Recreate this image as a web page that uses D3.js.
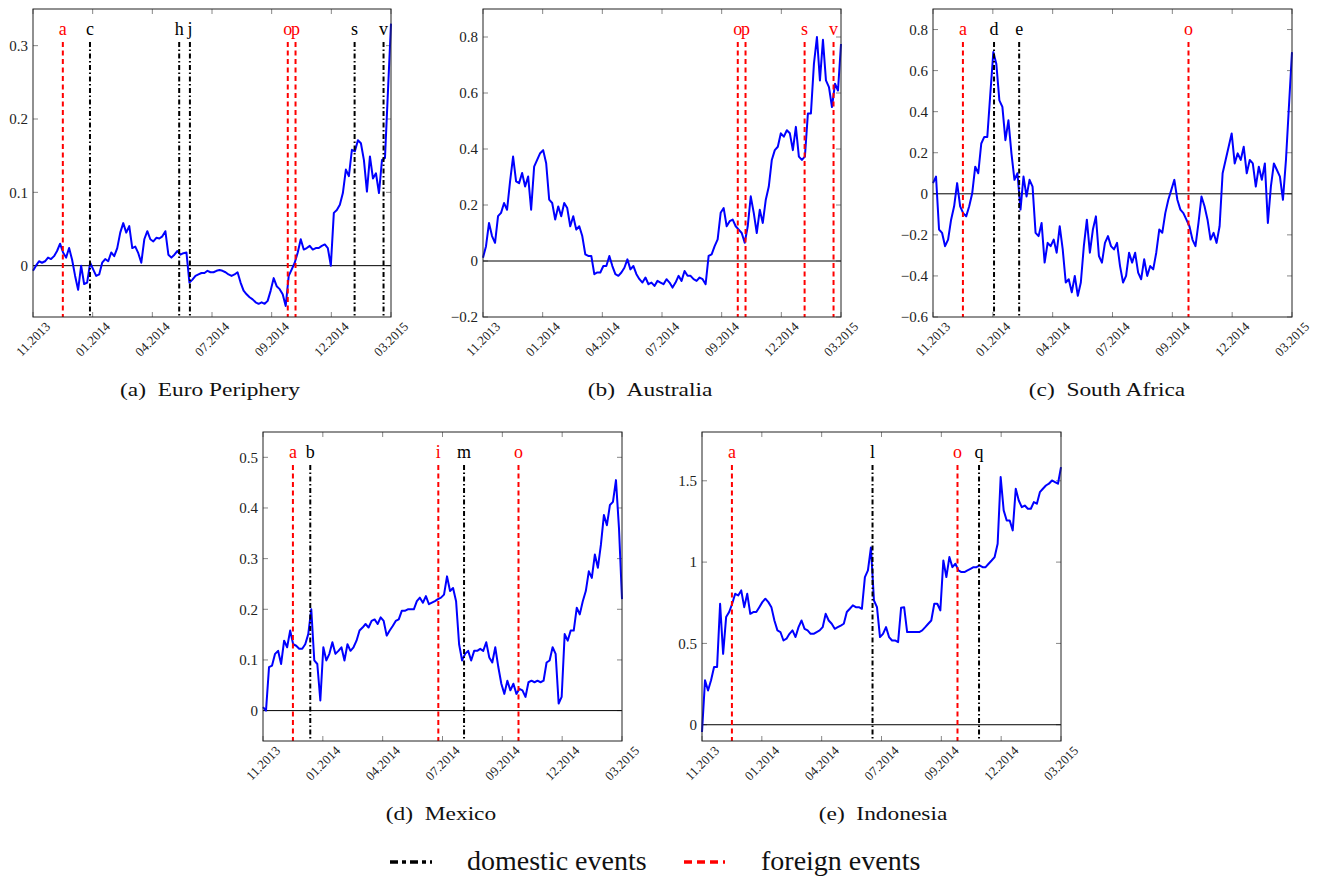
<!DOCTYPE html>
<html>
<head>
<meta charset="utf-8">
<script src="https://cdn.jsdelivr.net/npm/d3@7"></script>
<style>
  body { margin: 0; background: #fff; }
  svg { font-family: "Liberation Serif", "DejaVu Serif", serif; }
</style>
</head>
<body>
<svg id="chart" width="1324" height="880"></svg>
<script>
// x axis: observation index expressed in tick units (7 equally spaced ticks)
const xTickLabels = ["11.2013", "01.2014", "04.2014", "07.2014", "09.2014", "12.2014", "03.2015"];

// event dates, in the same tick units
const eventDates = {
  a: 0.50, b: 0.79, c: 0.955, d: 1.02, e: 1.44, h: 2.45, i: 2.93, j: 2.63,
  l: 2.85, m: 3.36, o: 4.27, p: 4.40, q: 4.63, s: 5.39, v: 5.875
};

const euroValues = [
  -0.007, 0.0, 0.006, 0.004, 0.006, 0.011, 0.009, 0.013, 0.02, 0.03, 0.018, 0.011, 0.024, 0.008,
  -0.014, -0.033, 0.0, -0.025, -0.023, 0.004, -0.005, -0.014, -0.012, 0.004, 0.009, 0.006,
  0.018, 0.013, 0.024, 0.045, 0.058, 0.045, 0.054, 0.024, 0.026, 0.017, 0.004, 0.036, 0.047,
  0.036, 0.033, 0.038, 0.037, 0.04, 0.047, 0.015, 0.011, 0.015, 0.02, 0.015, 0.017, 0.018,
  -0.023, -0.019, -0.014, -0.012, -0.01, -0.01, -0.007, -0.009, -0.009, -0.007, -0.006, -0.007,
  -0.009, -0.012, -0.014, -0.012, -0.009, -0.023, -0.034, -0.039, -0.043, -0.046, -0.05, -0.052,
  -0.05, -0.052, -0.048, -0.034, -0.017, -0.028, -0.032, -0.039, -0.055, -0.014, -0.005, 0.004,
  0.018, 0.036, 0.022, 0.024, 0.027, 0.022, 0.024, 0.024, 0.027, 0.029, 0.024, 0.0, 0.072,
  0.076, 0.083, 0.099, 0.131, 0.122, 0.158, 0.156, 0.171, 0.167, 0.144, 0.101, 0.149, 0.119,
  0.126, 0.099, 0.144, 0.147, 0.239, 0.33
];
const australiaValues = [
  0.012, 0.053, 0.136, 0.089, 0.065, 0.16, 0.172, 0.207, 0.183, 0.284, 0.373, 0.284, 0.278,
  0.314, 0.266, 0.302, 0.183, 0.337, 0.361, 0.385, 0.396, 0.349, 0.219, 0.207, 0.148, 0.195,
  0.16, 0.207, 0.189, 0.124, 0.16, 0.112, 0.124, 0.089, 0.024, 0.018, 0.018, -0.047, -0.041,
  -0.041, -0.018, -0.018, 0.018, -0.018, -0.047, -0.053, -0.041, -0.024, 0.006, -0.03, -0.018,
  -0.047, -0.065, -0.077, -0.059, -0.083, -0.077, -0.089, -0.071, -0.077, -0.083, -0.065,
  -0.077, -0.095, -0.077, -0.053, -0.071, -0.036, -0.053, -0.053, -0.065, -0.071, -0.059,
  -0.065, -0.083, 0.018, 0.024, 0.053, 0.077, 0.172, 0.189, 0.124, 0.142, 0.148, 0.124, 0.112,
  0.1, 0.065, 0.124, 0.231, 0.172, 0.1, 0.183, 0.136, 0.219, 0.266, 0.361, 0.396, 0.408, 0.456,
  0.444, 0.467, 0.456, 0.396, 0.479, 0.373, 0.361, 0.373, 0.527, 0.527, 0.704, 0.8, 0.645,
  0.79, 0.645, 0.621, 0.55, 0.633, 0.609, 0.775
];
const southAfricaValues = [
  0.052, 0.084, -0.174, -0.19, -0.255, -0.223, -0.126, -0.061, 0.052, -0.061, -0.094, -0.11,
  -0.061, 0.003, 0.132, 0.1, 0.245, 0.277, 0.277, 0.487, 0.69, 0.632, 0.455, 0.423, 0.261,
  0.358, 0.197, 0.068, 0.1, -0.077, 0.084, -0.013, 0.068, 0.035, -0.19, -0.206, -0.142, -0.335,
  -0.239, -0.255, -0.223, -0.287, -0.158, -0.271, -0.432, -0.416, -0.48, -0.4, -0.497, -0.432,
  -0.255, -0.126, -0.287, -0.174, -0.11, -0.303, -0.335, -0.239, -0.206, -0.255, -0.271, -0.239,
  -0.352, -0.432, -0.4, -0.287, -0.335, -0.287, -0.384, -0.416, -0.319, -0.4, -0.352, -0.368,
  -0.287, -0.174, -0.19, -0.094, -0.029, 0.019, 0.068, -0.029, -0.077, -0.094, -0.126, -0.158,
  -0.223, -0.255, -0.142, -0.013, -0.061, -0.126, -0.223, -0.19, -0.239, -0.158, 0.1, 0.165,
  0.229, 0.294, 0.148, 0.197, 0.165, 0.229, 0.1, 0.165, 0.148, 0.035, 0.132, 0.068, 0.148,
  -0.142, 0.035, 0.148, 0.116, 0.084, -0.029, 0.165, 0.43, 0.69
];
const mexicoValues = [
  0.007, 0.0, 0.086, 0.089, 0.112, 0.118, 0.092, 0.138, 0.125, 0.158, 0.131, 0.128, 0.122,
  0.122, 0.131, 0.151, 0.2, 0.099, 0.092, 0.02, 0.125, 0.099, 0.112, 0.135, 0.112, 0.118,
  0.125, 0.099, 0.131, 0.118, 0.125, 0.138, 0.158, 0.164, 0.171, 0.164, 0.177, 0.18, 0.171,
  0.184, 0.177, 0.148, 0.158, 0.167, 0.177, 0.18, 0.197, 0.197, 0.2, 0.2, 0.2, 0.216, 0.223,
  0.213, 0.226, 0.21, 0.213, 0.216, 0.22, 0.223, 0.229, 0.265, 0.236, 0.242, 0.216, 0.131,
  0.099, 0.112, 0.118, 0.099, 0.118, 0.118, 0.122, 0.118, 0.135, 0.105, 0.095, 0.125, 0.086,
  0.053, 0.033, 0.059, 0.04, 0.053, 0.033, 0.043, 0.04, 0.027, 0.056, 0.059, 0.056, 0.059,
  0.056, 0.059, 0.095, 0.099, 0.125, 0.112, 0.014, 0.027, 0.151, 0.138, 0.158, 0.158, 0.203,
  0.19, 0.216, 0.236, 0.275, 0.262, 0.308, 0.282, 0.327, 0.386, 0.366, 0.406, 0.412, 0.455,
  0.36, 0.22
];
const indonesiaValues = [
  -0.045, 0.273, 0.211, 0.273, 0.355, 0.355, 0.744, 0.436, 0.662, 0.693, 0.744, 0.805, 0.795,
  0.826, 0.723, 0.805, 0.682, 0.693, 0.693, 0.723, 0.754, 0.775, 0.754, 0.723, 0.641, 0.58,
  0.57, 0.518, 0.529, 0.559, 0.58, 0.539, 0.6, 0.641, 0.59, 0.58, 0.559, 0.559, 0.57, 0.58,
  0.6, 0.682, 0.641, 0.621, 0.59, 0.6, 0.61, 0.621, 0.693, 0.713, 0.734, 0.723, 0.723, 0.713,
  0.908, 0.949, 1.09, 0.764, 0.723, 0.539, 0.559, 0.6, 0.539, 0.518, 0.518, 0.508, 0.72,
  0.723, 0.57, 0.57, 0.57, 0.57, 0.57, 0.58, 0.6, 0.621, 0.641, 0.744, 0.744, 0.703, 1.01,
  0.908, 1.031, 0.969, 0.99, 0.949, 0.939, 0.939, 0.949, 0.959, 0.969, 0.969, 0.98, 0.969,
  0.969, 0.99, 1.01, 1.031, 1.113, 1.523, 1.318, 1.256, 1.256, 1.195, 1.451, 1.379, 1.338,
  1.348, 1.328, 1.328, 1.369, 1.359, 1.43, 1.451, 1.471, 1.482, 1.502, 1.492, 1.482, 1.584
];

// y axis ranges and ticks per panel
const euroY = [-0.07, 0.35], euroTicks = [0, 0.1, 0.2, 0.3];
const australiaY = [-0.2, 0.9], australiaTicks = [-0.2, 0, 0.2, 0.4, 0.6, 0.8];
const southAfricaY = [-0.6, 0.9], southAfricaTicks = [-0.6, -0.4, -0.2, 0, 0.2, 0.4, 0.6, 0.8];
const mexicoY = [-0.06, 0.55], mexicoTicks = [0, 0.1, 0.2, 0.3, 0.4, 0.5];
const indonesiaY = [-0.1, 1.8], indonesiaTicks = [0, 0.5, 1, 1.5];

// events shown in each panel and whether they are domestic or foreign there
const euroEvents = [["a", "foreign"], ["c", "domestic"], ["h", "domestic"], ["j", "domestic"],
  ["o", "foreign"], ["p", "foreign"], ["s", "domestic"], ["v", "domestic"]];
const australiaEvents = [["o", "foreign"], ["p", "foreign"], ["s", "foreign"], ["v", "foreign"]];
const southAfricaEvents = [["a", "foreign"], ["d", "domestic"], ["e", "domestic"], ["o", "foreign"]];
const mexicoEvents = [["a", "foreign"], ["b", "domestic"], ["i", "foreign"], ["m", "domestic"], ["o", "foreign"]];
const indonesiaEvents = [["a", "foreign"], ["l", "domestic"], ["o", "foreign"], ["q", "domestic"]];

const captions = ["(a)\u2002Euro Periphery", "(b)\u2002Australia", "(c)\u2002South Africa",
  "(d)\u2002Mexico", "(e)\u2002Indonesia"];

const svg = d3.select("#chart");

const panels = [
  { values: euroValues, y: euroY, ticks: euroTicks, events: euroEvents, caption: captions[0],
    left: 33, top: 9, width: 358, height: 308, capX: 210 },
  { values: australiaValues, y: australiaY, ticks: australiaTicks, events: australiaEvents, caption: captions[1],
    left: 483, top: 9, width: 358, height: 308, capX: 650 },
  { values: southAfricaValues, y: southAfricaY, ticks: southAfricaTicks, events: southAfricaEvents, caption: captions[2],
    left: 933, top: 9, width: 359, height: 308, capX: 1107 },
  { values: mexicoValues, y: mexicoY, ticks: mexicoTicks, events: mexicoEvents, caption: captions[3],
    left: 263, top: 432, width: 359, height: 309, capX: 441 },
  { values: indonesiaValues, y: indonesiaY, ticks: indonesiaTicks, events: indonesiaEvents, caption: captions[4],
    left: 702, top: 432, width: 359, height: 309, capX: 883 }
];

const colorOf = { domestic: "#000", foreign: "#ff0000" };
const dashOf = { domestic: "5,2.5,1.5,2.5", foreign: "5,3.5" };
const fmt = d3.format("~g");

panels.forEach(drawPanel);

function drawPanel(p) {
  const g = svg.append("g").attr("transform", `translate(${p.left},${p.top})`);
  const n = p.values.length;
  const x = d3.scaleLinear().domain([0, xTickLabels.length - 1]).range([0, p.width]);
  const y = d3.scaleLinear().domain(p.y).range([p.height, 0]);
  const xTicks = d3.range(xTickLabels.length);

  // inner tick marks on all four sides
  g.selectAll(".xt").data(xTicks).enter().append("g").each(function (d) {
    const t = d3.select(this);
    t.append("line").attr("x1", x(d)).attr("x2", x(d)).attr("y1", p.height).attr("y2", p.height - 5);
    t.append("line").attr("x1", x(d)).attr("x2", x(d)).attr("y1", 0).attr("y2", 5);
  }).selectAll("line").attr("stroke", "#888").attr("stroke-width", 1);
  g.selectAll(".yt").data(p.ticks).enter().append("g").each(function (d) {
    const t = d3.select(this);
    t.append("line").attr("x1", 0).attr("x2", 5).attr("y1", y(d)).attr("y2", y(d));
    t.append("line").attr("x1", p.width).attr("x2", p.width - 5).attr("y1", y(d)).attr("y2", y(d));
  }).selectAll("line").attr("stroke", "#888").attr("stroke-width", 1);

  // tick labels
  g.selectAll(".ylab").data(p.ticks).enter().append("text")
    .attr("x", -5).attr("y", d => y(d)).attr("dy", "0.35em")
    .attr("text-anchor", "end").attr("font-size", 15).attr("fill", "#222")
    .text(d => fmt(d));
  g.selectAll(".xlab").data(xTicks).enter().append("text")
    .attr("transform", d => `translate(${x(d)},${p.height + 22}) rotate(-45)`)
    .attr("text-anchor", "middle").attr("dy", "0.35em")
    .attr("font-size", 13).attr("fill", "#222")
    .text(d => xTickLabels[d]);

  // zero line
  g.append("line").attr("x1", 0).attr("x2", p.width).attr("y1", y(0)).attr("y2", y(0))
    .attr("stroke", "#000").attr("stroke-width", 1);

  // series
  const line = d3.line().x((d, i) => x(i * (xTickLabels.length - 1) / (n - 1))).y(d => y(d));
  g.append("path").datum(p.values).attr("d", line)
    .attr("fill", "none").attr("stroke", "#0000ff").attr("stroke-width", 2)
    .attr("stroke-linejoin", "round");

  // event lines
  const ev = g.selectAll(".ev").data(p.events).enter().append("g");
  ev.append("line")
    .attr("x1", d => x(eventDates[d[0]])).attr("x2", d => x(eventDates[d[0]]))
    .attr("y1", 33).attr("y2", p.height)
    .attr("stroke", d => colorOf[d[1]]).attr("stroke-width", 2)
    .attr("stroke-dasharray", d => dashOf[d[1]]);
  ev.append("text")
    .attr("x", d => x(eventDates[d[0]])).attr("y", 26)
    .attr("text-anchor", "middle").attr("font-size", 18)
    .attr("fill", d => colorOf[d[1]])
    .text(d => d[0]);

  // frame
  g.append("rect").attr("width", p.width).attr("height", p.height)
    .attr("fill", "none").attr("stroke", "#222").attr("stroke-width", 1);

  // caption (the reference typesets these wide, so stretch horizontally)
  const capY = p.top > 100 ? 820 : 396;
  svg.append("text")
    .attr("transform", `translate(${p.capX},${capY}) scale(1.3,1)`)
    .attr("text-anchor", "middle").attr("font-size", 18).attr("fill", "#111")
    .text(p.caption);
}

// legend
const legend = svg.append("g").attr("transform", "translate(0,870)");
legend.append("line").attr("x1", 390).attr("x2", 432).attr("y1", -8).attr("y2", -8)
  .attr("stroke", "#000").attr("stroke-width", 3.5).attr("stroke-dasharray", "8,4,4,4");
legend.append("text").attr("x", 467).attr("y", 0).attr("font-size", 28).attr("fill", "#111")
  .text("domestic events");
legend.append("line").attr("x1", 684).attr("x2", 725).attr("y1", -8).attr("y2", -8)
  .attr("stroke", "#ff0000").attr("stroke-width", 3.5).attr("stroke-dasharray", "8,5");
legend.append("text").attr("x", 761).attr("y", 0).attr("font-size", 28).attr("fill", "#111")
  .text("foreign events");
</script>
</body>
</html>
